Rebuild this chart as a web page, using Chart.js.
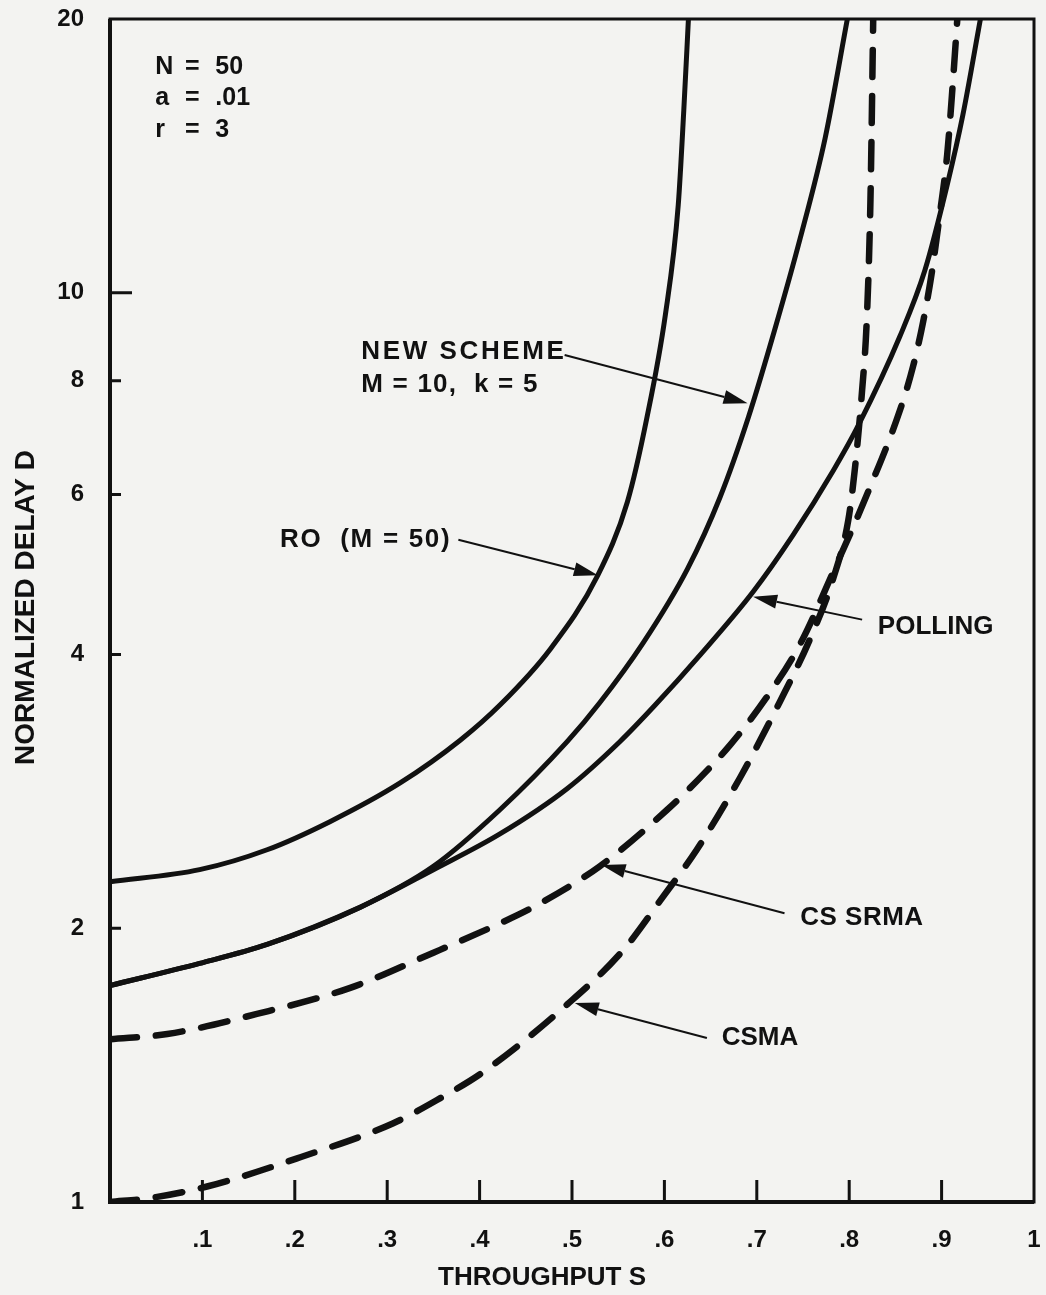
<!DOCTYPE html>
<html lang="en">
<head>
<meta charset="UTF-8">
<title>Normalized delay vs throughput</title>
<script src="https://cdn.jsdelivr.net/npm/chart.js@4.4.1/dist/chart.umd.min.js"></script>
<style>
  html, body { margin: 0; padding: 0; background: #f3f3f1; }
  #caixa { width: 1046px; height: 1295px; }
</style>
</head>
<body>
<div id="caixa"><canvas id="grafico"></canvas></div>
<script>
// valores: S = throughput, D = normalized delay
const roS = [0, 0.097, 0.170, 0.238, 0.314, 0.379, 0.422, 0.476, 0.528, 0.560, 0.581, 0.601, 0.615, 0.621, 0.626];
const roD = [2.25, 2.32, 2.44, 2.62, 2.89, 3.22, 3.52, 4.05, 4.89, 5.89, 7.28, 9.45, 12.49, 15.88, 20];

const novoS = [0, 0.097, 0.170, 0.271, 0.350, 0.422, 0.495, 0.530, 0.577, 0.625, 0.660, 0.691, 0.720, 0.747, 0.774, 0.798];
const novoD = [1.73, 1.83, 1.92, 2.11, 2.34, 2.70, 3.21, 3.54, 4.12, 4.97, 5.95, 7.30, 9.15, 11.48, 14.80, 20];

const pollingS = [0, 0.097, 0.170, 0.271, 0.350, 0.422, 0.495, 0.552, 0.590, 0.639, 0.696, 0.739, 0.783, 0.810, 0.855, 0.882, 0.906, 0.923, 0.942];
const pollingD = [1.73, 1.83, 1.92, 2.11, 2.32, 2.54, 2.85, 3.21, 3.52, 4.0, 4.69, 5.41, 6.38, 7.15, 8.96, 10.59, 13.13, 15.68, 20];

const srmaS = [0, 0.062, 0.159, 0.260, 0.350, 0.415, 0.458, 0.530, 0.603, 0.636, 0.671, 0.709, 0.747, 0.783, 0.819, 0.855, 0.869, 0.880, 0.889, 0.898, 0.906, 0.912, 0.917];
const srmaD = [1.51, 1.53, 1.61, 1.72, 1.88, 2.01, 2.11, 2.34, 2.70, 2.91, 3.18, 3.57, 4.11, 4.94, 5.99, 7.43, 8.29, 9.29, 10.46, 12.18, 14.17, 16.92, 20];

const csmaS = [0, 0.043, 0.105, 0.206, 0.306, 0.357, 0.404, 0.495, 0.555, 0.599, 0.635, 0.682, 0.725, 0.758, 0.783, 0.799, 0.806, 0.814, 0.819, 0.823, 0.826];
const csmaD = [1.0, 1.01, 1.04, 1.12, 1.22, 1.30, 1.39, 1.65, 1.89, 2.17, 2.44, 2.93, 3.55, 4.17, 4.86, 5.62, 6.38, 7.82, 9.33, 12.65, 20];

const xTicks = [0, 0.1, 0.2, 0.3, 0.4, 0.5, 0.6, 0.7, 0.8, 0.9, 1];
const yTicks = [1, 2, 4, 6, 8, 10, 20];

// textos e setas, posicionados em coordenadas do grafico (S, D)
const parametros = [
    { nome: 'N', valor: '50', d: 17.7 },
    { nome: 'a', valor: '.01', d: 16.37 },
    { nome: 'r', valor: '3', d: 15.1 }
];
const rotulos = [
    { texto: 'NEW SCHEME', s: 0.272, d: 8.61, espaco: 2.6 },
    { texto: 'M = 10,  k = 5', s: 0.272, d: 7.92, espaco: 1.2 },
    { texto: 'RO  (M = 50)', s: 0.184, d: 5.35, espaco: 1.7 },
    { texto: 'POLLING', s: 0.831, d: 4.29, espaco: 0 },
    { texto: 'CS SRMA', s: 0.747, d: 2.053, espaco: 0.5 },
    { texto: 'CSMA', s: 0.662, d: 1.515, espaco: 0 }
];
const setas = [
    { de: [0.492, 8.54], para: [0.690, 7.56] },
    { de: [0.377, 5.35], para: [0.528, 4.89] },
    { de: [0.814, 4.37], para: [0.696, 4.63] },
    { de: [0.730, 2.078], para: [0.532, 2.348] },
    { de: [0.646, 1.515], para: [0.503, 1.655] }
];

const FONTE = '"Liberation Sans", Arial, Helvetica, sans-serif';
const TINTA = '#111111';

function pontos(xs, ys) {
    return xs.map((x, i) => ({ x: x, y: ys[i] }));
}

function serie(label, xs, ys, tracejada) {
    return {
        label: label,
        data: pontos(xs, ys),
        borderColor: TINTA,
        borderWidth: tracejada ? 6.5 : 5,
        borderDash: tracejada ? [27, 19] : [],
        borderCapStyle: 'round',
        pointRadius: 0,
        fill: false,
        cubicInterpolationMode: 'monotone'
    };
}

function seta(ctx, x1, y1, x2, y2) {
    const ang = Math.atan2(y2 - y1, x2 - x1);
    const comp = 24, larg = 7;
    ctx.beginPath();
    ctx.moveTo(x1, y1);
    ctx.lineTo(x2 - comp * Math.cos(ang), y2 - comp * Math.sin(ang));
    ctx.lineWidth = 2;
    ctx.stroke();
    ctx.beginPath();
    ctx.moveTo(x2, y2);
    ctx.lineTo(x2 - comp * Math.cos(ang) + larg * Math.sin(ang), y2 - comp * Math.sin(ang) - larg * Math.cos(ang));
    ctx.lineTo(x2 - comp * Math.cos(ang) - larg * Math.sin(ang), y2 - comp * Math.sin(ang) + larg * Math.cos(ang));
    ctx.closePath();
    ctx.fill();
}

const desenhos = {
    id: 'desenhos',
    beforeDraw(chart) {
        const ctx = chart.ctx;
        ctx.save();
        ctx.fillStyle = '#f3f3f1';
        ctx.fillRect(0, 0, chart.width, chart.height);
        ctx.restore();
    },
    afterDraw(chart) {
        const ctx = chart.ctx;
        const a = chart.chartArea;
        const sx = chart.scales.x, sy = chart.scales.y;
        ctx.save();
        ctx.strokeStyle = TINTA;
        ctx.fillStyle = TINTA;

        // moldura
        ctx.lineWidth = 3;
        ctx.strokeRect(a.left, a.top, a.right - a.left, a.bottom - a.top);
        ctx.lineWidth = 4;
        ctx.beginPath();
        ctx.moveTo(a.left, a.top);
        ctx.lineTo(a.left, a.bottom);
        ctx.lineTo(a.right, a.bottom);
        ctx.stroke();

        // marcas para dentro
        ctx.lineWidth = 3;
        ctx.beginPath();
        xTicks.slice(1, -1).forEach(v => {
            const px = sx.getPixelForValue(v);
            ctx.moveTo(px, a.bottom);
            ctx.lineTo(px, a.bottom - 22);
        });
        yTicks.slice(1, -1).forEach(v => {
            const py = sy.getPixelForValue(v);
            ctx.moveTo(a.left, py);
            ctx.lineTo(a.left + (v === 10 ? 22 : 11), py);
        });
        ctx.stroke();

        // titulos dos eixos
        ctx.font = 'bold 26px ' + FONTE;
        ctx.textAlign = 'center';
        ctx.textBaseline = 'middle';
        ctx.fillText('THROUGHPUT S', (a.left + a.right) / 2 - 30, 1278);
        ctx.save();
        ctx.font = 'bold 28px ' + FONTE;
        ctx.translate(26, (a.top + a.bottom) / 2 - 3);
        ctx.rotate(-Math.PI / 2);
        ctx.fillText('NORMALIZED DELAY D', 0, 0);
        ctx.restore();

        // parametros
        ctx.font = 'bold 25px ' + FONTE;
        parametros.forEach(p => {
            const py = sy.getPixelForValue(p.d);
            ctx.textAlign = 'left';
            ctx.fillText(p.nome, sx.getPixelForValue(0.049), py);
            ctx.textAlign = 'center';
            ctx.fillText('=', sx.getPixelForValue(0.089), py);
            ctx.textAlign = 'left';
            ctx.fillText(p.valor, sx.getPixelForValue(0.114), py);
        });

        // rotulos das curvas
        ctx.font = 'bold 26px ' + FONTE;
        ctx.textAlign = 'left';
        rotulos.forEach(r => {
            ctx.letterSpacing = r.espaco + 'px';
            ctx.fillText(r.texto, sx.getPixelForValue(r.s), sy.getPixelForValue(r.d));
        });
        ctx.letterSpacing = '0px';

        setas.forEach(s => {
            seta(ctx,
                sx.getPixelForValue(s.de[0]), sy.getPixelForValue(s.de[1]),
                sx.getPixelForValue(s.para[0]), sy.getPixelForValue(s.para[1]));
        });
        ctx.restore();
    }
};

const config = {
    type: 'line',
    data: {
        datasets: [
            serie('RO (M = 50)', roS, roD, false),
            serie('NEW SCHEME', novoS, novoD, false),
            serie('POLLING', pollingS, pollingD, false),
            serie('CS SRMA', srmaS, srmaD, true),
            serie('CSMA', csmaS, csmaD, true)
        ]
    },
    options: {
        responsive: true,
        maintainAspectRatio: false,
        animation: false,
        layout: { padding: { top: 19, right: 12, left: 0, bottom: 0 } },
        plugins: {
            legend: { display: false },
            tooltip: { enabled: false }
        },
        scales: {
            x: {
                type: 'linear',
                min: 0,
                max: 1,
                grid: { display: false, drawTicks: false },
                border: { display: false },
                afterBuildTicks: axis => { axis.ticks = xTicks.map(v => ({ value: v })); },
                afterFit: axis => {
                    axis.height = 93;
                    axis.paddingLeft = 0;
                    axis.paddingRight = 0;
                },
                ticks: {
                    autoSkip: false,
                    maxRotation: 0,
                    padding: 24,
                    color: TINTA,
                    font: { family: FONTE, size: 24, weight: 'bold' },
                    callback: v => v === 0 ? '' : (v === 1 ? '1' : '.' + Math.round(v * 10))
                }
            },
            y: {
                type: 'logarithmic',
                min: 1,
                max: 20,
                grid: { display: false, drawTicks: false },
                border: { display: false },
                afterBuildTicks: axis => { axis.ticks = yTicks.map(v => ({ value: v })); },
                afterFit: axis => {
                    axis.width = 110;
                    axis.paddingTop = 0;
                    axis.paddingBottom = 0;
                },
                ticks: {
                    autoSkip: false,
                    padding: 26,
                    color: TINTA,
                    font: { family: FONTE, size: 24, weight: 'bold' },
                    callback: v => String(v)
                }
            }
        }
    },
    plugins: [desenhos]
};

let meuGrafico = new Chart(document.getElementById('grafico'), config);
</script>
</body>
</html>
